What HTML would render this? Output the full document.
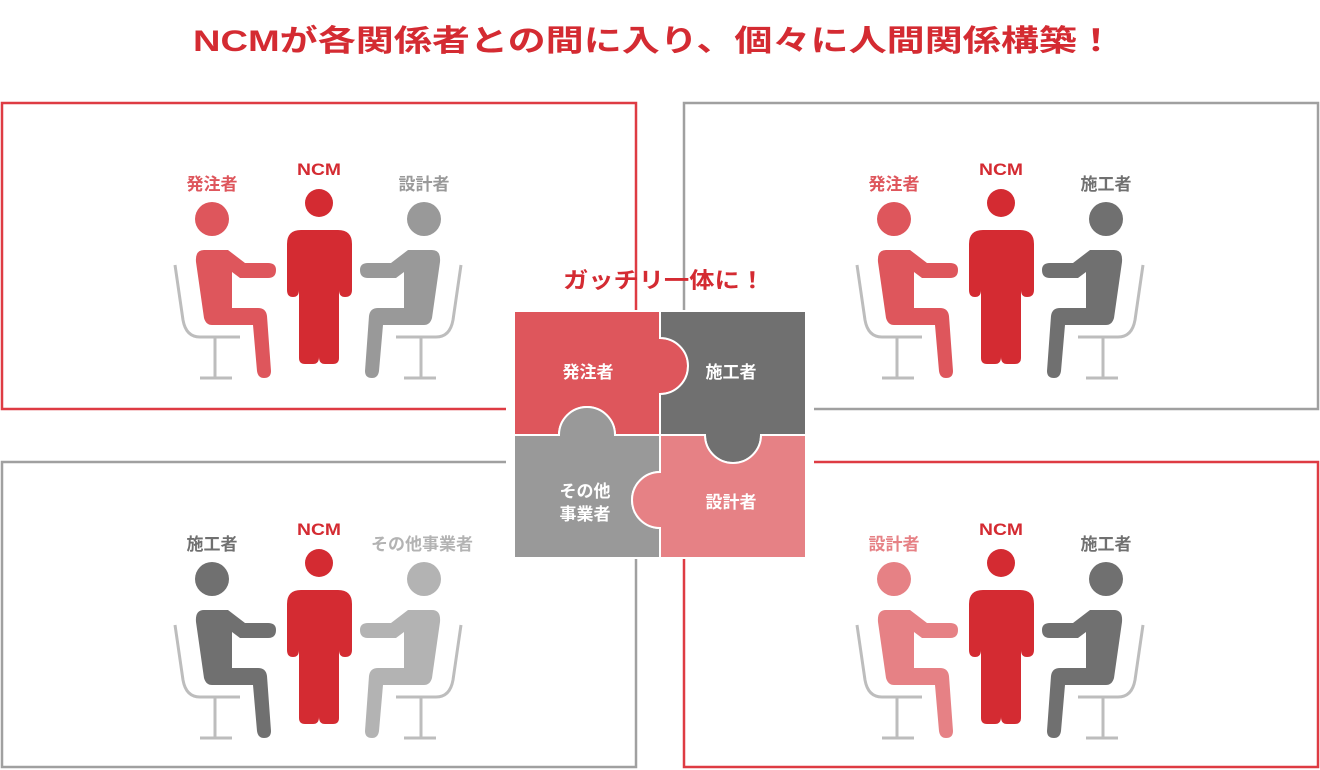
<!DOCTYPE html>
<html><head><meta charset="utf-8"><style>
html,body{margin:0;padding:0;background:#fff;}
svg{display:block;}
text{font-family:"Liberation Sans","Noto Sans CJK JP",sans-serif;font-weight:bold;}
</style></head><body>
<svg width="1320" height="770" viewBox="0 0 1320 770" xmlns="http://www.w3.org/2000/svg">
<defs>
  <path id="p" d="M204,250 H228 L245,263 H268 Q276,263 276,270 Q276,278 268,278 H240 L232,272 V308 H258 Q266,308 267,316 L271,371 Q271,378 264,378 Q258,378 257,371 L253,325 H212 Q206,325 204,318 L196,262 Q195,250 204,250 Z"/>
  <g id="chair" fill="none" stroke="#bdbdbd" stroke-width="3">
    <path d="M175,265 L183,320 Q186,337 200,337 H240"/>
    <path d="M215,337 V378 M200,378 H232"/>
  </g>
  <g id="ncm" fill="#d42b32">
    <circle cx="319" cy="203" r="14"/>
    <path d="M301,230 H338 Q352,230 352,244 V290 Q352,297 345,297 Q339,297 339,290 V358 Q339,364 333,364 H325 Q319,364 319,357 Q319,364 313,364 H305 Q299,364 299,358 V290 Q299,297 293,297 Q287,297 287,290 V244 Q287,230 301,230 Z"/>
  </g>
</defs>

<text x="193" y="51" font-size="30" fill="#d42b32" textLength="922" lengthAdjust="spacingAndGlyphs">NCMが各関係者との間に入り、個々に人間関係構築！</text>

<rect x="2" y="103" width="634" height="306" fill="none" stroke="#de3b43" stroke-width="2.5"/>
<rect x="684" y="103" width="634" height="306" fill="none" stroke="#a0a0a0" stroke-width="2.5"/>
<rect x="2" y="462" width="634" height="305" fill="none" stroke="#a0a0a0" stroke-width="2.5"/>
<rect x="684" y="462" width="634" height="305" fill="none" stroke="#de3b43" stroke-width="2.5"/>

<!-- TL -->
<g>
  <use href="#chair"/><use href="#p" fill="#de565c"/><circle cx="212" cy="219" r="17" fill="#de565c"/>
  <g transform="translate(636,0) scale(-1,1)"><use href="#chair"/><use href="#p" fill="#999"/><circle cx="212" cy="219" r="17" fill="#999"/></g>
  <use href="#ncm"/>
  <text x="212" y="190" font-size="17" fill="#de565c" text-anchor="middle">発注者</text>
  <text x="297" y="175" font-size="17" fill="#d42b32" textLength="44" lengthAdjust="spacingAndGlyphs">NCM</text>
  <text x="424" y="190" font-size="17" fill="#999" text-anchor="middle">設計者</text>
</g>
<!-- TR -->
<g transform="translate(682,0)">
  <use href="#chair"/><use href="#p" fill="#de565c"/><circle cx="212" cy="219" r="17" fill="#de565c"/>
  <g transform="translate(636,0) scale(-1,1)"><use href="#chair"/><use href="#p" fill="#707070"/><circle cx="212" cy="219" r="17" fill="#707070"/></g>
  <use href="#ncm"/>
  <text x="212" y="190" font-size="17" fill="#de565c" text-anchor="middle">発注者</text>
  <text x="297" y="175" font-size="17" fill="#d42b32" textLength="44" lengthAdjust="spacingAndGlyphs">NCM</text>
  <text x="424" y="190" font-size="17" fill="#707070" text-anchor="middle">施工者</text>
</g>
<!-- BL -->
<g transform="translate(0,360)">
  <use href="#chair"/><use href="#p" fill="#707070"/><circle cx="212" cy="219" r="17" fill="#707070"/>
  <g transform="translate(636,0) scale(-1,1)"><use href="#chair"/><use href="#p" fill="#b3b3b3"/><circle cx="212" cy="219" r="17" fill="#b3b3b3"/></g>
  <use href="#ncm"/>
  <text x="212" y="190" font-size="17" fill="#707070" text-anchor="middle">施工者</text>
  <text x="297" y="175" font-size="17" fill="#d42b32" textLength="44" lengthAdjust="spacingAndGlyphs">NCM</text>
  <text x="422" y="190" font-size="17" fill="#b3b3b3" text-anchor="middle">その他事業者</text>
</g>
<!-- BR -->
<g transform="translate(682,360)">
  <use href="#chair"/><use href="#p" fill="#e68185"/><circle cx="212" cy="219" r="17" fill="#e68185"/>
  <g transform="translate(636,0) scale(-1,1)"><use href="#chair"/><use href="#p" fill="#707070"/><circle cx="212" cy="219" r="17" fill="#707070"/></g>
  <use href="#ncm"/>
  <text x="212" y="190" font-size="17" fill="#e68185" text-anchor="middle">設計者</text>
  <text x="297" y="175" font-size="17" fill="#d42b32" textLength="44" lengthAdjust="spacingAndGlyphs">NCM</text>
  <text x="424" y="190" font-size="17" fill="#707070" text-anchor="middle">施工者</text>
</g>

<!-- puzzle -->
<rect x="506" y="311" width="308" height="248" fill="#fff"/>
<text x="563" y="288" font-size="22" fill="#d42b32" textLength="202" lengthAdjust="spacingAndGlyphs">ガッチリ一体に！</text>
<g stroke="#fff" stroke-width="2">
  <path fill="#de565c" d="M514,311 H660 V338 A28,28 0 0 1 660,394 V435 H615 A28,28 0 0 0 559,435 H514 Z"/>
  <path fill="#707070" d="M660,311 H806 V435 H761 A28,28 0 0 1 705,435 H660 V394 A28,28 0 0 0 660,338 Z"/>
  <path fill="#999999" d="M514,435 H559 A28,28 0 0 1 615,435 H660 V472 A28,28 0 0 0 660,528 V558 H514 Z"/>
  <path fill="#e68185" d="M660,435 H705 A28,28 0 0 0 761,435 H806 V558 H660 V528 A28,28 0 0 1 660,472 Z"/>
</g>
<g fill="#fff" font-size="17" text-anchor="middle">
  <text x="588" y="378">発注者</text>
  <text x="731" y="378">施工者</text>
  <text x="585" y="497">その他</text>
  <text x="585" y="520">事業者</text>
  <text x="731" y="508">設計者</text>
</g>
</svg>
</body></html>
